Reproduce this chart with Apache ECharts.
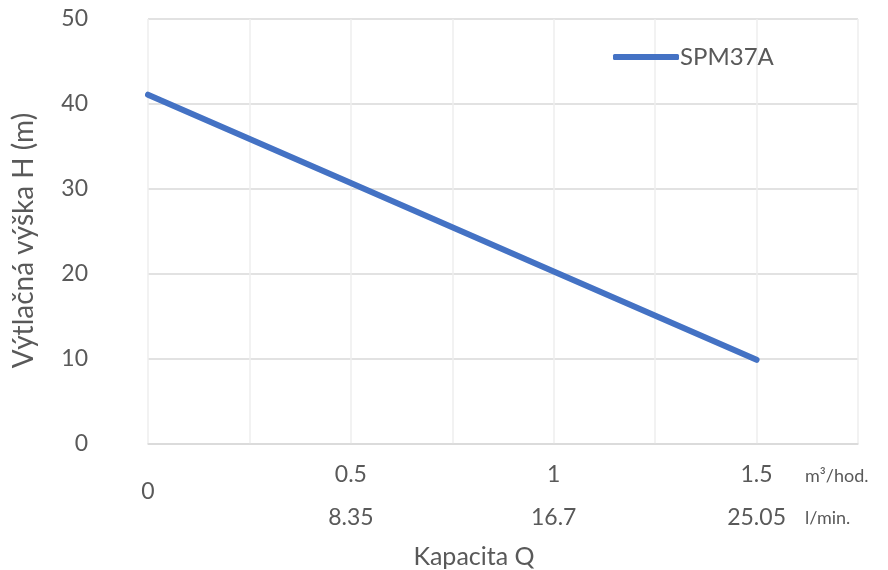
<!DOCTYPE html>
<html><head><meta charset="utf-8">
<script src="https://cdn.jsdelivr.net/npm/echarts@6/dist/echarts.min.js"></script>
<style>html,body{margin:0;padding:0;background:#fff}#c{width:888px;height:570px}</style>
</head><body><div id="c"></div>
<script>
var seriesName = 'SPM37A';
var flowM3 = [0, 0.5, 1, 1.5];
var head = [41.1, 30.7, 20.3, 9.9];
var m3Labels = ['0', '0.5', '1', '1.5'];
var lminLabels = ['', '8.35', '16.7', '25.05'];
var unitM3 = 'm³/hod.';
var unitLmin = 'l/min.';
var xTitle = 'Kapacita Q';
var yTitle = 'Výtlačná výška H (m)';

var FONT = 'Lato';
var GRAY = '#595959';
function idxOf(v){ for (var i=0;i<flowM3.length;i++){ if (Math.abs(flowM3[i]-v)<1e-9) return i; } return -1; }

var chart = echarts.init(document.getElementById('c'));
chart.setOption({
  animation: false,
  textStyle: {fontFamily: FONT},
  grid: {left: 148, right: 30, top: 19, bottom: 126, containLabel: false, outerBoundsMode: 'none'},
  legend: {
    left: 608, top: 40, icon: 'roundRect', itemWidth: 66, itemHeight: 6, itemGap: 0,
    textStyle: {color: GRAY, fontSize: 24, fontFamily: FONT, padding: [0, 0, 0, -4]},
    data: [seriesName]
  },
  xAxis: [{
    type: 'value', min: 0, max: 1.75, interval: 0.25,
    axisLine: {show: true, lineStyle: {color: '#d9d9d9', width: 1.5}},
    axisTick: {show: false},
    splitLine: {show: true, lineStyle: {color: '#eeeeee', width: 1.5}},
    axisLabel: {
      color: GRAY, fontSize: 23, margin: 19, showMinLabel: true, showMaxLabel: true,
      formatter: function(v){ var i = idxOf(v); if (i < 0) return ''; return i === 0 ? '{z|' + m3Labels[i] + '}' : m3Labels[i]; },
      rich: {z: {fontSize: 23, color: GRAY, fontFamily: FONT, padding: [17, 0, 0, 0]}}
    }
  }, {
    type: 'value', min: 0, max: 1.75, interval: 0.25, position: 'bottom', offset: 45,
    axisLine: {show: false}, axisTick: {show: false}, splitLine: {show: false},
    axisLabel: {
      color: GRAY, fontSize: 23, margin: 17,
      formatter: function(v){ var i = idxOf(v); return i < 0 ? '' : lminLabels[i]; }
    },
    name: xTitle, nameLocation: 'middle', nameGap: 55,
    nameTextStyle: {color: GRAY, fontSize: 25, fontFamily: FONT, padding: [0, 58, 0, 0]}
  }],
  yAxis: {
    type: 'value', min: 0, max: 50, interval: 10,
    axisLine: {show: false}, axisTick: {show: false},
    splitLine: {show: true, lineStyle: {color: '#d9d9d9', width: 1.5}},
    axisLabel: {color: GRAY, fontSize: 23, margin: 60},
    name: yTitle, nameLocation: 'middle', nameGap: 110,
    nameTextStyle: {color: GRAY, fontSize: 28, fontFamily: FONT, padding: [0, 18, 0, 0]}
  },
  graphic: [
    {type: 'text', left: 805, top: 467, style: {text: unitM3, fill: GRAY, font: '18px ' + FONT}},
    {type: 'text', left: 805, top: 509, style: {text: unitLmin, fill: GRAY, font: '18px ' + FONT}}
  ],
  series: [{
    name: seriesName, type: 'line', xAxisIndex: 0,
    data: flowM3.map(function(x, i){ return [x, head[i]]; }),
    symbol: 'none', smooth: false,
    lineStyle: {color: '#4472c4', width: 6, cap: 'round', join: 'round'},
    itemStyle: {color: '#4472c4'}
  }]
});
</script></body></html>
